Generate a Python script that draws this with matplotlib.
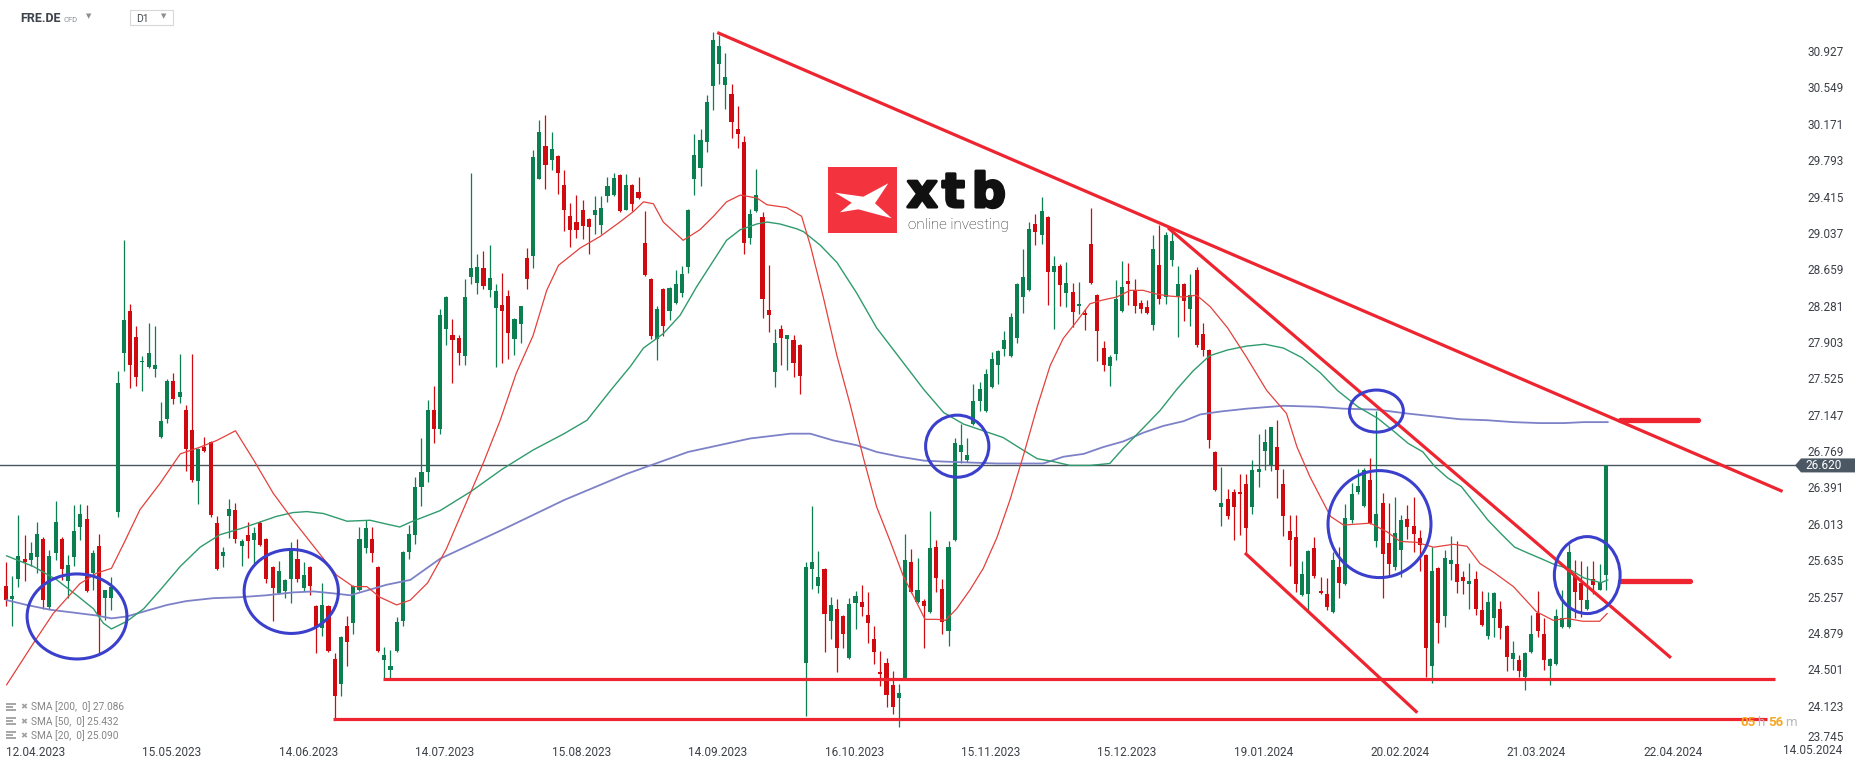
import numpy as np
import pandas as pd
import matplotlib
matplotlib.use("Agg")
import matplotlib.pyplot as plt
import matplotlib.patheffects as pe
from matplotlib.patches import Ellipse, Rectangle, Polygon

plt.rcParams['font.family'] = ['Roboto', 'DejaVu Sans']

W, H, DPI = 1866, 767, 100

# trading calendar of the CFD
START = '2023-04-12'
HOLIDAYS = ['2023-05-01', '2023-12-25', '2023-12-26', '2024-01-01', '2024-05-01']
tick_dates = ['12.04.2023', '15.05.2023', '14.06.2023', '14.07.2023', '15.08.2023',
              '14.09.2023', '16.10.2023', '15.11.2023', '15.12.2023', '19.01.2024',
              '20.02.2024', '21.03.2024', '22.04.2024']
edge_date = '14.05.2024'

# daily candles FRE.DE
opens = [
    25.37, 25.23, 25.44, 25.65, 25.64, 25.67, 25.86, 25.15, 25.71, 25.86,
    25.42, 25.67, 25.98, 26.06, 25.50, 25.78, 25.24, 25.24, 26.14, 27.79,
    28.22, 27.95, 27.69, 27.64, 27.62, 26.92, 27.10, 27.50, 27.33, 27.20,
    26.99, 26.46, 26.81, 26.86, 26.02, 25.68, 26.09, 26.16, 25.78, 25.90,
    25.84, 26.02, 25.86, 25.56, 25.29, 25.31, 25.44, 25.65, 25.35, 25.56,
    25.16, 24.93, 25.16, 24.61, 24.35, 24.95, 24.98, 25.32, 25.76, 25.86,
    25.56, 24.60, 24.49, 24.69, 25.00, 25.72, 25.90, 26.40, 26.55, 27.20,
    27.00, 28.04, 27.98, 27.94, 27.76, 28.58, 28.52, 28.67, 28.44, 28.26,
    28.29, 28.38, 27.93, 28.09, 28.78, 28.80, 29.60, 29.94, 29.80, 29.84,
    29.53, 29.21, 29.15, 29.27, 29.18, 29.22, 29.12, 29.42, 29.43, 29.64,
    29.28, 29.54, 29.46, 28.93, 28.56, 27.93, 28.45, 28.22, 28.31, 28.41,
    28.68, 29.60, 29.71, 29.98, 30.56, 30.79, 30.57, 30.48, 30.12, 29.98,
    28.98, 29.26, 29.20, 28.24, 27.59, 28.04, 27.93, 27.92, 27.87, 24.57,
    25.54, 25.37, 25.54, 25.00, 25.13, 25.05, 24.62, 25.19, 25.20, 25.06,
    24.82, 24.47, 24.57, 24.34, 24.20, 24.41, 25.62, 25.20, 25.21, 25.10,
    25.77, 25.34, 24.90, 25.84, 26.76, 26.68, 27.05, 27.29, 27.19, 27.43,
    27.66, 27.83, 27.76, 27.94, 28.37, 28.44, 29.13, 29.02, 29.20, 28.63,
    28.69, 28.41, 28.42, 28.28, 28.20, 28.92, 28.39, 27.84, 27.65, 27.78,
    28.22, 28.54, 28.44, 28.31, 28.27, 28.08, 28.70, 28.37, 28.76, 28.38,
    28.51, 28.25, 28.65, 27.99, 27.82, 26.76, 26.19, 26.27, 26.34, 26.34,
    26.43, 26.19, 26.55, 26.77, 26.62, 26.81, 26.43, 25.94, 25.88, 25.27,
    25.28, 25.76, 25.31, 25.28, 25.10, 25.56, 25.39, 26.05, 26.34, 26.20,
    26.47, 25.83, 26.23, 25.81, 25.56, 25.74, 26.06, 25.99, 25.87, 25.69,
    24.53, 25.55, 25.05, 25.60, 25.60, 25.46, 25.39, 25.44, 25.12, 24.85,
    25.03, 25.13, 24.95, 24.61, 24.60, 24.42, 24.68, 25.09, 24.87, 24.53,
    24.56, 24.94, 24.94, 25.48, 25.40, 25.13, 25.44, 25.33, 25.48]
highs = [
    25.62, 25.47, 26.10, 25.90, 25.82, 26.03, 25.88, 25.74, 26.25, 25.88,
    25.69, 26.21, 26.22, 26.21, 25.74, 25.91, 25.33, 25.46, 27.60, 28.96,
    28.30, 28.07, 27.76, 28.10, 28.07, 27.28, 27.52, 27.58, 27.78, 27.25,
    27.78, 26.80, 26.92, 26.87, 26.09, 25.77, 26.27, 26.23, 25.86, 26.03,
    25.98, 26.04, 25.87, 25.57, 25.63, 25.44, 25.82, 25.86, 25.62, 25.57,
    25.17, 25.40, 25.17, 24.67, 24.85, 25.05, 25.38, 25.98, 26.05, 25.98,
    25.57, 24.73, 24.70, 25.04, 25.73, 26.00, 26.50, 26.90, 27.30, 27.45,
    28.25, 28.38, 28.14, 27.98, 28.56, 29.66, 28.82, 28.85, 28.91, 28.51,
    28.62, 28.44, 28.15, 28.28, 28.88, 29.90, 30.21, 30.26, 30.09, 29.85,
    29.69, 29.35, 29.43, 29.38, 29.19, 29.42, 29.42, 29.62, 29.66, 29.65,
    29.65, 29.55, 29.62, 29.26, 28.57, 28.28, 28.46, 28.47, 28.65, 28.69,
    29.29, 30.06, 30.12, 30.47, 31.13, 31.09, 30.91, 30.59, 30.36, 30.04,
    29.29, 29.70, 29.25, 28.70, 28.04, 28.08, 27.98, 27.98, 27.88, 25.62,
    26.20, 25.73, 25.55, 25.25, 25.23, 25.06, 25.24, 25.31, 25.38, 25.30,
    24.95, 24.69, 24.62, 24.48, 24.35, 25.91, 25.75, 25.66, 25.23, 26.15,
    25.84, 25.44, 25.83, 26.91, 27.05, 26.90, 27.47, 27.49, 27.62, 27.80,
    27.82, 28.02, 28.20, 28.52, 28.87, 29.15, 29.23, 29.41, 29.21, 28.80,
    28.71, 28.73, 28.52, 28.53, 28.25, 29.30, 28.40, 27.91, 27.77, 28.55,
    28.75, 28.72, 28.56, 28.34, 28.34, 29.02, 29.12, 29.05, 29.05, 28.69,
    28.52, 28.61, 28.68, 28.10, 27.83, 26.77, 26.60, 26.37, 26.37, 26.53,
    26.53, 26.68, 26.95, 27.00, 27.02, 27.09, 26.58, 26.10, 26.10, 25.63,
    25.74, 25.88, 25.46, 25.45, 25.72, 25.77, 26.22, 26.44, 26.58, 26.59,
    26.70, 27.19, 26.33, 26.23, 26.29, 26.10, 26.21, 26.29, 25.95, 25.70,
    25.77, 25.56, 25.74, 25.89, 25.83, 25.52, 25.61, 25.52, 25.31, 25.30,
    25.30, 25.21, 24.96, 24.80, 24.65, 24.68, 25.06, 25.31, 25.03, 24.62,
    25.13, 25.32, 25.80, 25.64, 25.63, 25.57, 25.63, 25.60, 26.62]
lows = [
    25.16, 24.95, 25.36, 25.42, 25.57, 25.50, 25.13, 25.13, 25.64, 25.43,
    25.24, 25.57, 25.84, 25.30, 25.33, 24.67, 25.01, 25.12, 26.08, 27.60,
    27.42, 27.45, 27.39, 27.63, 27.54, 26.91, 27.06, 27.26, 27.27, 26.56,
    26.45, 26.22, 26.76, 26.08, 25.53, 25.56, 25.87, 25.81, 25.57, 25.66,
    25.60, 25.78, 25.40, 25.00, 25.28, 25.24, 25.19, 25.41, 25.31, 25.27,
    24.67, 24.85, 24.68, 23.98, 24.22, 24.54, 24.87, 25.31, 25.71, 25.62,
    24.68, 24.41, 24.41, 24.68, 24.95, 25.65, 25.80, 26.20, 26.45, 26.85,
    26.95, 27.87, 27.48, 27.66, 27.66, 28.51, 28.40, 28.45, 28.37, 27.64,
    27.68, 27.73, 27.77, 27.89, 28.45, 28.67, 29.60, 29.49, 29.69, 29.44,
    29.06, 28.89, 28.98, 28.97, 28.82, 29.03, 29.03, 29.36, 29.42, 29.25,
    29.27, 29.26, 29.39, 28.59, 27.93, 27.72, 27.97, 28.13, 28.30, 28.37,
    28.62, 29.43, 29.52, 29.88, 30.31, 30.59, 30.33, 30.02, 29.92, 28.82,
    28.92, 29.25, 28.15, 28.01, 27.44, 27.66, 27.61, 27.54, 27.36, 24.02,
    25.34, 25.29, 24.68, 24.82, 24.47, 24.72, 24.61, 24.92, 25.05, 24.77,
    24.56, 24.33, 24.11, 24.04, 23.90, 24.40, 25.29, 25.19, 24.72, 25.09,
    25.30, 24.87, 24.74, 25.83, 26.64, 26.66, 27.04, 27.19, 27.18, 27.42,
    27.47, 27.76, 27.75, 27.89, 28.20, 28.43, 28.91, 28.92, 28.29, 28.04,
    28.28, 28.27, 28.06, 28.19, 28.03, 28.51, 27.71, 27.60, 27.45, 27.72,
    28.21, 28.29, 28.20, 28.20, 28.19, 28.03, 28.30, 28.30, 28.69, 27.95,
    28.12, 28.07, 27.85, 27.76, 26.80, 26.35, 25.99, 26.06, 25.84, 25.90,
    25.71, 26.12, 26.40, 26.57, 26.56, 26.28, 25.89, 25.57, 25.30, 25.26,
    25.12, 25.45, 25.28, 25.12, 25.09, 25.24, 25.38, 26.02, 26.32, 26.19,
    26.01, 25.77, 25.24, 25.48, 25.53, 25.46, 25.86, 25.72, 25.52, 24.42,
    24.36, 24.77, 24.94, 25.43, 25.29, 25.28, 25.13, 25.06, 24.95, 24.82,
    24.84, 24.82, 24.48, 24.49, 24.42, 24.29, 24.67, 24.84, 24.49, 24.34,
    24.55, 24.93, 24.93, 25.03, 25.04, 25.12, 25.28, 25.32, 25.32]
closes = [
    25.22, 25.26, 25.68, 25.62, 25.71, 25.91, 25.22, 25.68, 26.03, 25.54,
    25.58, 25.94, 26.11, 25.31, 25.71, 25.05, 25.32, 25.36, 27.48, 28.13,
    27.66, 27.54, 27.71, 27.79, 27.66, 27.08, 27.50, 27.31, 27.38, 26.79,
    26.47, 26.79, 26.77, 26.10, 25.54, 25.72, 26.17, 25.86, 25.83, 25.83,
    25.92, 25.79, 25.44, 25.35, 25.52, 25.43, 25.75, 25.44, 25.48, 25.37,
    24.93, 25.17, 24.69, 24.22, 24.84, 24.78, 25.37, 25.85, 25.97, 25.71,
    24.69, 24.65, 24.53, 24.99, 25.72, 25.91, 26.40, 26.55, 27.20, 27.00,
    28.18, 28.37, 27.92, 27.79, 28.37, 28.67, 28.68, 28.49, 28.57, 28.43,
    28.23, 28.00, 28.14, 28.28, 28.56, 29.83, 30.09, 29.74, 29.91, 29.66,
    29.27, 29.07, 29.07, 29.11, 29.10, 29.27, 29.30, 29.52, 29.61, 29.26,
    29.53, 29.34, 29.40, 28.60, 27.97, 28.25, 28.07, 28.46, 28.51, 28.61,
    29.27, 29.85, 30.00, 30.40, 31.04, 30.98, 30.66, 30.19, 30.07, 28.93,
    29.23, 29.43, 28.35, 28.18, 27.89, 27.94, 27.98, 27.68, 27.55, 25.56,
    25.62, 25.46, 25.08, 25.17, 24.72, 24.87, 25.18, 25.26, 25.15, 24.98,
    24.68, 24.45, 24.23, 24.11, 24.25, 25.64, 25.30, 25.33, 25.16, 25.76,
    25.45, 24.99, 25.77, 26.85, 26.83, 26.73, 27.29, 27.41, 27.57, 27.73,
    27.81, 27.92, 28.16, 28.51, 28.58, 29.08, 29.05, 29.26, 28.63, 28.69,
    28.50, 28.52, 28.21, 28.30, 28.18, 28.52, 28.02, 27.66, 27.75, 28.35,
    28.47, 28.51, 28.28, 28.25, 28.20, 28.87, 28.35, 29.02, 28.95, 28.51,
    28.33, 28.39, 27.87, 27.82, 26.88, 26.36, 26.23, 26.09, 26.19, 26.32,
    25.97, 26.57, 26.58, 26.86, 27.02, 26.57, 26.09, 25.84, 25.39, 25.49,
    25.73, 25.47, 25.29, 25.15, 25.64, 25.40, 26.07, 26.32, 26.41, 26.57,
    26.02, 26.12, 25.70, 25.60, 25.92, 26.05, 25.98, 25.91, 25.79, 24.72,
    25.52, 24.98, 25.66, 25.64, 25.41, 25.42, 25.42, 25.13, 24.96, 25.20,
    25.29, 24.93, 24.63, 24.67, 24.48, 24.67, 24.87, 24.90, 24.60, 24.61,
    25.05, 25.03, 25.72, 25.30, 25.22, 25.22, 25.38, 25.41, 26.62]

# moving averages at candle positions
sma20_x = [0.1, 4.4, 7.6, 11.9, 14.6, 17.0, 19.0, 21.6, 24.8, 28.1, 31.3, 34.0, 37.0,
           39.9, 43.1, 46.3, 50.1, 53.3, 56.0, 58.2, 60.3, 63.0, 65.2, 68, 71, 74, 77,
           79.7, 82.3, 85.0, 87.2, 89.1, 92.6, 95.8, 99.0, 101.2, 102.8, 104.4, 106.0,
           109.2, 111.9, 114.1, 116.2, 118.4, 121.1, 122.7, 125.9, 128.3, 129.7, 131.8,
           134.0, 136.1, 138.3, 140.4, 142.6, 144.7, 146.9, 148.2, 150.1, 151.5, 153.3,
           155.5, 157.6, 159.8, 161.9, 164.1, 166.3, 168.4, 170.5, 172.7, 174.8, 176.9,
           179.1, 181.3, 183.4, 185.6, 187.7, 189.9, 192.0, 194.2, 197, 200, 203.3,
           206.5, 208.2, 210.3, 213.6, 215.7, 220.0, 222.7, 224.8, 227.5, 230.2, 233.4,
           235.6, 237.7, 239.9, 243.1, 246.8, 249.5, 251.6, 254.3, 257.0, 258.2]
sma20_y = [24.34, 24.77, 25.08, 25.39, 25.50, 25.55, 25.81, 26.16, 26.43, 26.74, 26.81,
           26.88, 26.98, 26.68, 26.33, 26.05, 25.74, 25.48, 25.36, 25.36, 25.25, 25.17,
           25.22, 25.40, 25.75, 26.20, 26.65, 27.09, 27.58, 27.97, 28.44, 28.70, 28.88,
           29.00, 29.15, 29.26, 29.36, 29.34, 29.15, 28.96, 29.07, 29.21, 29.36, 29.43,
           29.40, 29.33, 29.30, 29.21, 28.91, 28.37, 27.76, 27.26, 26.69, 26.19, 25.83,
           25.47, 25.19, 25.02, 25.02, 25.01, 25.13, 25.33, 25.55, 25.87, 26.26, 26.73,
           27.23, 27.66, 27.94, 28.12, 28.30, 28.34, 28.37, 28.44, 28.44, 28.40, 28.38,
           28.37, 28.39, 28.27, 28.05, 27.75, 27.40, 27.16, 26.81, 26.50, 26.09, 26.00,
           26.02, 25.93, 25.83, 25.82, 25.77, 25.80, 25.78, 25.60, 25.51, 25.36, 25.10,
           25.01, 25.03, 25.00, 25.00, 25.08]
sma50_x = [0.1, 4.4, 8.2, 11.4, 14.1, 15.7, 17.0, 19.5, 22.2, 24.8, 28.1, 31.3, 34.5,
           37.7, 40.9, 43.6, 46.3, 48.5, 51.2, 55.0, 58.7, 61.4, 63.5, 65.2, 70, 75, 80,
           85, 90, 93.7, 97.5, 100.7, 102.8, 106.0, 108.7, 111.4, 113.5, 116.2, 118.4,
           121.1, 122.7, 124.8, 127.5, 128.6, 131.3, 134.0, 137.2, 140.4, 144.2, 148.0,
           151.2, 154.4, 157.6, 160.8, 163.5, 166.3, 168.9, 171.6, 174.8, 178.0, 180.2,
           183.4, 186.1, 188.8, 191.4, 194.1, 197, 200, 203, 206, 209, 212, 214.7, 218.0,
           221.2, 223.9, 226.1, 228.5, 230.4, 232.5, 234.7, 236.8, 239.0, 241.1, 243.3,
           245.4, 247.6, 249.7, 251.9, 254.5, 257.2, 258.3]
sma50_y = [25.68, 25.57, 25.43, 25.27, 25.13, 24.98, 24.92, 25.00, 25.13, 25.32, 25.57,
           25.77, 25.90, 25.96, 26.03, 26.09, 26.13, 26.14, 26.12, 26.04, 26.05, 26.01,
           25.98, 26.03, 26.15, 26.35, 26.58, 26.78, 26.95, 27.09, 27.40, 27.65, 27.84,
           27.99, 28.18, 28.48, 28.69, 28.96, 29.07, 29.13, 29.15, 29.13, 29.08, 29.05,
           28.91, 28.73, 28.41, 28.05, 27.73, 27.41, 27.17, 27.05, 26.98, 26.91, 26.80,
           26.69, 26.66, 26.62, 26.62, 26.64, 26.80, 27.01, 27.19, 27.41, 27.60, 27.76,
           27.82, 27.86, 27.88, 27.84, 27.74, 27.58, 27.40, 27.23, 27.11, 26.97, 26.85,
           26.76, 26.61, 26.49, 26.40, 26.23, 26.05, 25.91, 25.77, 25.71, 25.65, 25.59,
           25.55, 25.45, 25.40, 25.43]
sma200_x = [0.1, 3.3, 7.1, 10.9, 14.6, 17.0, 19.5, 22.7, 26.0, 29.1, 33.4, 37.7, 42.0,
            46.3, 49.6, 52.8, 55.5, 58.2, 61.4, 65.2, 70, 80, 90, 100, 110, 120, 126.5,
            129.7, 133.4, 137.2, 140.4, 144.2, 148.0, 151.2, 155.5, 159.8, 164.1, 167.3,
            170.5, 173.8, 176.9, 180.2, 183.4, 186.6, 189.9, 192.6, 195.8, 200.1, 206.0,
            211.4, 215.7, 221.1, 225.9, 230.2, 234.5, 238.8, 243.1, 247.4, 251.2, 254.4,
            258.3]
sma200_y = [25.22, 25.17, 25.12, 25.09, 25.06, 25.03, 25.05, 25.11, 25.17, 25.21, 25.24,
            25.25, 25.27, 25.30, 25.31, 25.29, 25.27, 25.32, 25.38, 25.43, 25.65, 25.95,
            26.26, 26.53, 26.76, 26.90, 26.95, 26.95, 26.88, 26.83, 26.76, 26.71, 26.67,
            26.66, 26.65, 26.64, 26.64, 26.64, 26.71, 26.74, 26.81, 26.87, 26.96, 27.03,
            27.08, 27.15, 27.18, 27.21, 27.24, 27.23, 27.21, 27.20, 27.16, 27.13, 27.10,
            27.09, 27.07, 27.06, 27.06, 27.07, 27.07]
sma_legend = [('200', '27.086'), ('50', '25.432'), ('20', '25.090')]

# drawn analysis: trend lines, supports, marks (candle index, price)
trend_lines = [((114.7, 31.12), (286.5, 26.35)),
               ((187.4, 29.09), (268.5, 24.62)),
               ((199.8, 25.71), (227.6, 24.05)),
               ((60.8, 24.40), (285.3, 24.40)),
               ((52.7, 23.98), (284.0, 23.98))]
level_marks = [((260.3, 27.09), (272.9, 27.09)),
               ((260.3, 25.42), (271.5, 25.42))]
circles = [(11.45, 25.05, 16.1, 0.884), (46.0, 25.31, 15.2, 0.873),
           (153.4, 26.82, 10.2, 0.645), (221.0, 27.185, 8.7, 0.437),
           (221.5, 26.01, 16.6, 1.112), (255.0, 25.48, 10.6, 0.80)]

GREEN = '#0b7f50'
RED = '#d10a10'
TXT = '#3c4147'

fig = plt.figure(figsize=(W / DPI, H / DPI), dpi=DPI)
fig.patch.set_facecolor('white')
ax = fig.add_axes([0, 1 - 742 / H, 1790 / W, 742 / H])
ax.set_facecolor('white')
for s in ax.spines.values():
    s.set_visible(False)

o, h, l, c = map(np.array, (opens, highs, lows, closes))
x = np.arange(len(c))
col = np.where(c >= o, GREEN, RED)
ax.vlines(x, l, h, colors=col, lw=0.9, zorder=3)
ax.bar(x, np.maximum(np.abs(c - o), 0.014), bottom=np.minimum(o, c), width=0.66,
       color=col, linewidth=0, zorder=3)

ax.plot(sma200_x, sma200_y, color='#7d81c8', lw=1.3, zorder=4)
ax.plot(sma50_x, sma50_y, color='#2f9b6d', lw=1.0, zorder=4)
ax.plot(sma20_x, sma20_y, color='#e3413c', lw=0.9, zorder=4)

ax.axhline(c[-1], color='#4a5560', lw=1.0, zorder=2, xmax=1795 / 1790, clip_on=False)

for (x0, y0), (x1, y1) in trend_lines:
    ax.plot([x0, x1], [y0, y1], color='#ee2530', lw=2.3, solid_capstyle='butt', zorder=5)
for (x0, y0), (x1, y1) in level_marks:
    ax.plot([x0, x1], [y0, y1], color='#ee2530', lw=3.8, solid_capstyle='round', zorder=5)
for cx, cy, w, hh in circles:
    ax.add_patch(Ellipse((cx, cy), w, hh, fill=False, ec='#3b40cc', lw=2.2, zorder=6))

ax.set_xlim(-0.97, 287.7)
ax.set_ylim(23.745, 31.458)

cal = pd.bdate_range(START, periods=320, freq='C', holidays=HOLIDAYS)
tick_pos = [cal.get_loc(pd.to_datetime(d, format='%d.%m.%Y')) for d in tick_dates]
ax.set_xticks(tick_pos, tick_dates)
for lbl in ax.get_xticklabels():
    lbl.set_horizontalalignment('left')
ax.tick_params(axis='x', length=0, pad=3, labelsize=8.5, labelcolor=TXT)

yt = 23.745 + 0.378 * np.arange(20)
ax.yaxis.tick_right()
ax.set_yticks(yt[1:], [f'{v:.3f}' for v in yt[1:]])
ax.tick_params(axis='y', length=0, pad=12.5, labelsize=8.5, labelcolor=TXT)

# overlay in pixel units for the screen furniture
ov = fig.add_axes([0, 0, 1, 1], zorder=10)
ov.set_xlim(0, W)
ov.set_ylim(H, 0)
ov.axis('off')

# lowest price label sits a little higher to clear the date at the corner
ov.text(1807, 737.5, f'{yt[0]:.3f}', color=TXT, fontsize=8.5, ha='left', va='center')
ov.text(1842, 751, edge_date, color=TXT, fontsize=8.5, ha='right', va='center')

yp = H - ax.transData.transform((0, c[-1]))[1]
ov.add_patch(Polygon([(1795, yp), (1801, yp - 7), (1855, yp - 7), (1855, yp + 7),
                      (1801, yp + 7)], closed=True, color='#4b5864', lw=0))
ov.text(1842, yp, f'{c[-1]:.3f}', color='white', fontsize=8.5, ha='right', va='center')

ov.text(20, 19, 'FRE.DE', fontsize=9, fontweight='bold', color='#3d434a', va='center')
ov.text(63, 19.5, 'CFD', fontsize=5.5, color='#8a8f94', va='center')
ov.text(89, 16, '▼', fontsize=5, color='#8a8f94', ha='center', va='center',
        family='DejaVu Sans')
ov.add_patch(Rectangle((130, 10), 43, 15, fill=False, ec='#d8d8d8', lw=0.8))
ov.text(136, 19.5, 'D1', fontsize=7.5, color='#444a50', va='center')
ov.text(164, 16, '▼', fontsize=5, color='#8a8f94', ha='center', va='center',
        family='DejaVu Sans')

for i, (n, v) in enumerate(sma_legend):
    yy = 707 + 14.3 * i
    for dy, ww in ((-3.5, 10), (-0.5, 7), (2.5, 10)):
        ov.add_patch(Rectangle((6, yy + dy - 1), ww, 2, color='#a8a8a8', lw=0))
    ov.text(23.5, yy, '✖', fontsize=6, color='#a0a0a0', ha='center', va='center',
            family='DejaVu Sans')
    ov.text(31, yy, f'SMA [{n},  0] {v}', fontsize=7.3, color='#858585', va='center')

for s, xx, cc, fw in (('05', 1740, '#f5a623', 'bold'), ('h', 1757, '#b8b8b8', 'normal'),
                      ('56', 1768, '#f5a623', 'bold'), ('m', 1785, '#b8b8b8', 'normal')):
    ov.text(xx, 722, s, fontsize=9.5, color=cc, va='center', fontweight=fw)

# xtb logo
ov.add_patch(Rectangle((828, 167), 69, 66, color='#f3343f', lw=0))
ov.add_patch(Polygon([(835, 192.7), (863.3, 196.7), (888.3, 183.3), (875, 203.3),
                      (891.7, 218.3), (858.3, 209.3), (840, 212.3), (851.7, 202.7)],
                     closed=True, color='white', lw=0))
heavy = [pe.withStroke(linewidth=2.2, foreground='#111111')]
for s, xx in (('x', 907), ('t', 942), ('b', 972)):
    ov.text(xx, 207, s, fontsize=34, fontweight='bold', color='#111111',
            family='DejaVu Sans', va='baseline', ha='left', path_effects=heavy)
ov.text(908, 228.5, 'online investing', fontsize=11, fontweight='light',
        color='#222222', va='baseline', ha='left')

fig.savefig('out.png', dpi=DPI)
